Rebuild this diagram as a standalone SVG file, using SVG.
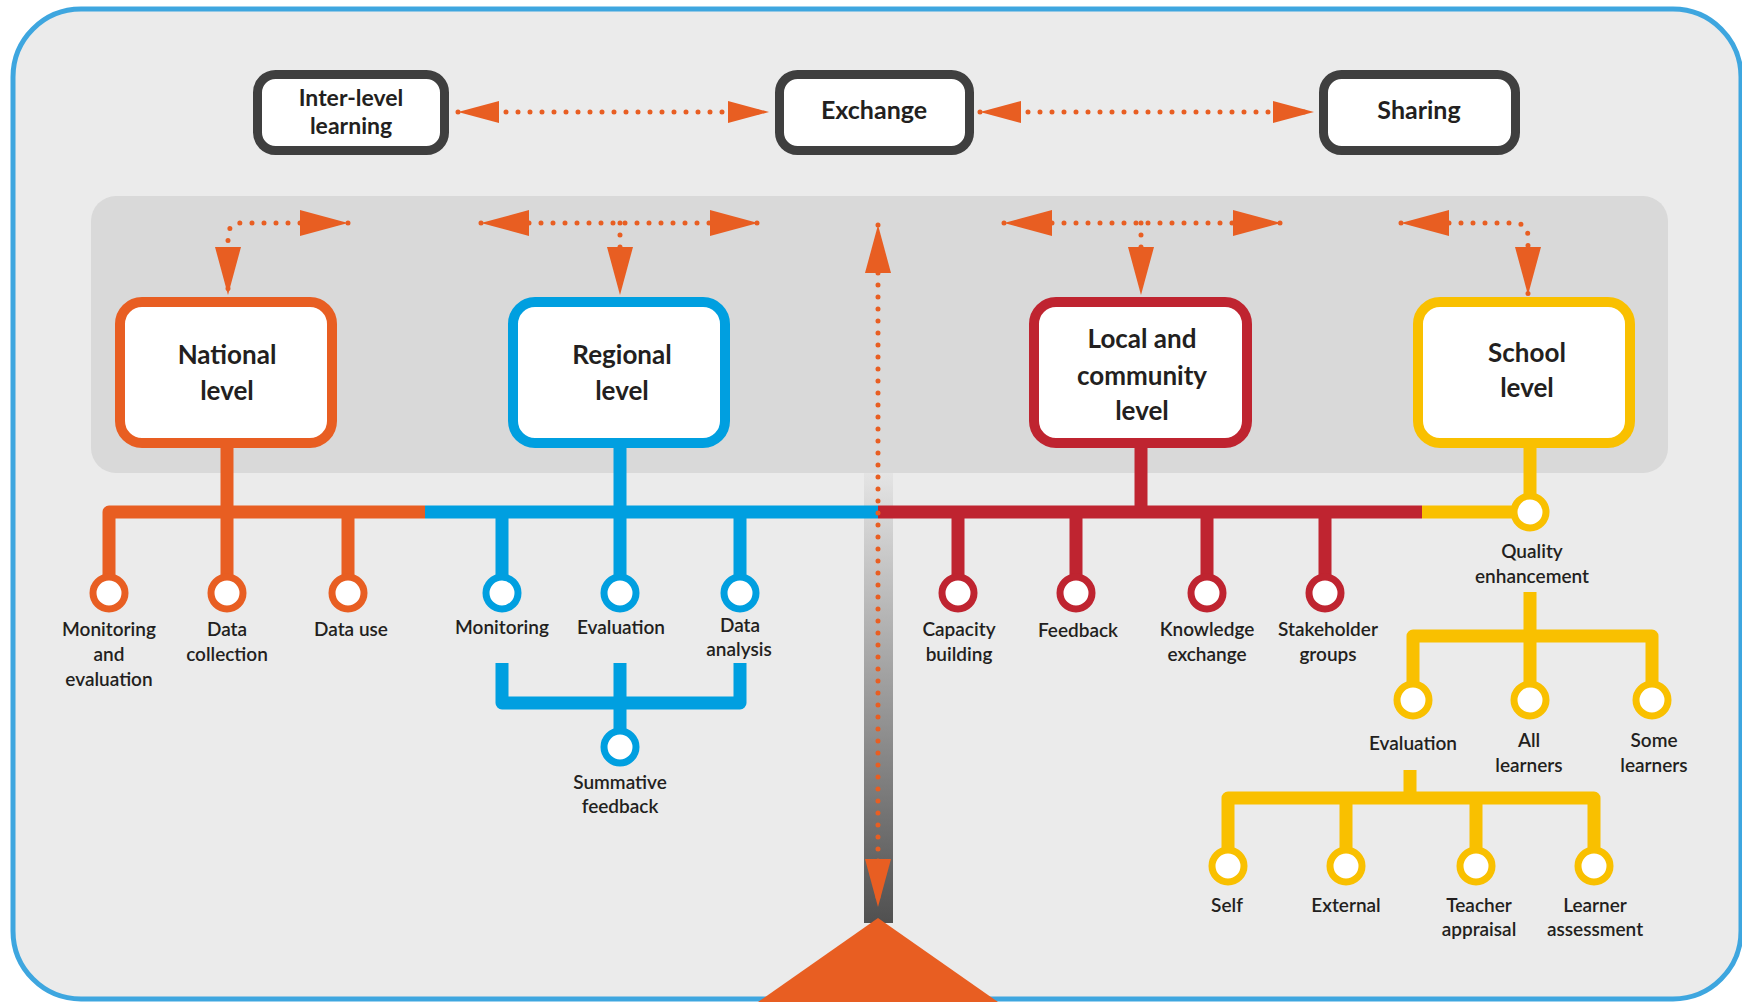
<svg xmlns="http://www.w3.org/2000/svg" width="1742" height="1002" viewBox="0 0 1742 1002">
<style>
.title{font-family:Lato,"Liberation Sans",sans-serif;font-weight:700;font-size:26px;fill:#231F20;text-anchor:middle}
.top{font-family:Lato,"Liberation Sans",sans-serif;font-weight:700;font-size:25px;fill:#231F20;text-anchor:middle}
.top2{font-family:Lato,"Liberation Sans",sans-serif;font-weight:700;font-size:23px;fill:#231F20;text-anchor:middle}
.lbl{font-family:Lato,"Liberation Sans",sans-serif;font-weight:600;font-size:19px;fill:#231F20;text-anchor:middle}
.dots{fill:none;stroke:#E85E22;stroke-width:5;stroke-linecap:round;stroke-dasharray:0 12}
.tb{fill:#FFFFFF;stroke:#3F3F3F;stroke-width:9}
.br{fill:none;stroke-width:13;stroke-linejoin:round}
.o{stroke:#E85E22}.b{stroke:#009FE0}.r{stroke:#BF2430}.y{stroke:#F9C000}
.c{fill:#FFFFFF;stroke-width:7}
</style>
<defs>
<marker id="ah" viewBox="0 0 48 26" refX="48" refY="13" markerWidth="48" markerHeight="26" markerUnits="userSpaceOnUse" orient="auto-start-reverse"><path d="M0,0 L48,13 L0,26 Z" fill="#E85E22"/></marker>
<marker id="ahs" viewBox="0 0 41 22" refX="41" refY="11" markerWidth="41" markerHeight="22" markerUnits="userSpaceOnUse" orient="auto-start-reverse"><path d="M0,0 L41,11 L0,22 Z" fill="#E85E22"/></marker>
<linearGradient id="bar" x1="0" y1="0" x2="0" y2="1"><stop offset="0" stop-color="#E4E4E4"/><stop offset="1" stop-color="#505050"/></linearGradient>
</defs>
<rect x="0" y="0" width="1742" height="1002" fill="#FFFFFF"/>
<rect x="13" y="9" width="1728" height="990" rx="68" fill="#EBEBEB" stroke="#3EA6DF" stroke-width="5"/>
<rect x="91" y="196" width="1577" height="277" rx="25" fill="#D9D9D9"/>
<rect x="864" y="473" width="29" height="450" fill="url(#bar)"/>
<polygon points="878,918 758,1002 998,1002" fill="#E85E22"/>

<g id="connectors">
<path class="dots" d="M458,112 L769,112" marker-start="url(#ahs)" marker-end="url(#ahs)"/>
<path class="dots" d="M980,112 L1314,112" marker-start="url(#ahs)" marker-end="url(#ahs)"/>
<path class="dots" d="M348,223 L242,223 Q228,223 228,237 L228,295" marker-start="url(#ah)" marker-end="url(#ah)"/>
<path class="dots" d="M481,223 L758,223" marker-start="url(#ah)" marker-end="url(#ah)"/>
<path class="dots" d="M620,223 L620,295" marker-end="url(#ah)"/>
<path class="dots" d="M1004,223 L1281,223" marker-start="url(#ah)" marker-end="url(#ah)"/>
<path class="dots" d="M1141,223 L1141,295" marker-end="url(#ah)"/>
<path class="dots" d="M1401,223 L1514,223 Q1528,223 1528,237 L1528,295" marker-start="url(#ah)" marker-end="url(#ah)"/>
<path class="br o" d="M227,448 L227,512"/>
<path class="br b" d="M620,448 L620,512"/>
<path class="br r" d="M1141,448 L1141,512"/>
<path class="br y" d="M1530,448 L1530,496"/>
<path class="br o" d="M109,577 L109,512 L425,512 M227,512 L227,577 M348,512 L348,577"/>
<path class="br b" d="M425,512 L878,512 M502,512 L502,577 M620,512 L620,577 M740,512 L740,577"/>
<path class="br b" d="M502,663 L502,703 L740,703 L740,663 M620,663 L620,731"/>
<path class="br r" d="M878,512 L1422,512 M958,512 L958,577 M1076,512 L1076,577 M1207,512 L1207,577 M1325,512 L1325,577"/>
<path class="br y" d="M1422,512 L1514,512"/>
<path class="br y" d="M1530,592 L1530,684 M1413,684 L1413,636 L1652,636 L1652,684"/>
<path class="br y" d="M1410,770 L1410,798 M1228,850 L1228,798 L1594,798 L1594,850 M1346,798 L1346,850 M1476,798 L1476,850"/>
<path class="dots" d="M878,225 L878,907" marker-start="url(#ah)" marker-end="url(#ah)"/>
</g>

<g id="inter-level"><rect class="tb" x="257.5" y="74.5" width="187" height="76" rx="18"/><text class="top2" x="351" y="106">Inter-level</text><text class="top2" x="351" y="134">learning</text></g>
<g id="exchange"><rect class="tb" x="779.5" y="74.5" width="190" height="76" rx="18"/><text class="top" x="874" y="119">Exchange</text></g>
<g id="sharing"><rect class="tb" x="1323.5" y="74.5" width="192" height="76" rx="18"/><text class="top" x="1419" y="119">Sharing</text></g>

<g id="national"><rect x="120" y="302" width="212" height="141" rx="22" fill="#FFFFFF" stroke="#E85E22" stroke-width="10"/><text class="title" x="227" y="364">National</text><text class="title" x="227" y="400">level</text></g>
<g id="regional"><rect x="513" y="302" width="212" height="141" rx="22" fill="#FFFFFF" stroke="#009FE0" stroke-width="10"/><text class="title" x="622" y="364">Regional</text><text class="title" x="622" y="400">level</text></g>
<g id="local"><rect x="1034" y="302" width="213" height="141" rx="22" fill="#FFFFFF" stroke="#BF2430" stroke-width="10"/><text class="title" x="1142" y="348">Local and</text><text class="title" x="1142" y="385">community</text><text class="title" x="1142" y="420">level</text></g>
<g id="school"><rect x="1418" y="302" width="212" height="141" rx="22" fill="#FFFFFF" stroke="#F9C000" stroke-width="10"/><text class="title" x="1527" y="362">School</text><text class="title" x="1527" y="397">level</text></g>

<g id="n-me"><circle class="c o" cx="109" cy="593" r="16"/><text class="lbl" x="109" y="636">Monitoring</text><text class="lbl" x="109" y="661">and</text><text class="lbl" x="109" y="686">evaluation</text></g>
<g id="n-dc"><circle class="c o" cx="227" cy="593" r="16"/><text class="lbl" x="227" y="636">Data</text><text class="lbl" x="227" y="661">collection</text></g>
<g id="n-du"><circle class="c o" cx="348" cy="593" r="16"/><text class="lbl" x="351" y="636">Data use</text></g>

<g id="r-mon"><circle class="c b" cx="502" cy="593" r="16"/><text class="lbl" x="502" y="634">Monitoring</text></g>
<g id="r-eval"><circle class="c b" cx="620" cy="593" r="16"/><text class="lbl" x="621" y="634">Evaluation</text></g>
<g id="r-da"><circle class="c b" cx="740" cy="593" r="16"/><text class="lbl" x="740" y="632">Data</text><text class="lbl" x="739" y="656">analysis</text></g>
<g id="r-sf"><circle class="c b" cx="620" cy="747" r="16"/><text class="lbl" x="620" y="789">Summative</text><text class="lbl" x="620" y="813">feedback</text></g>

<g id="l-cb"><circle class="c r" cx="958" cy="593" r="16"/><text class="lbl" x="959" y="636">Capacity</text><text class="lbl" x="959" y="661">building</text></g>
<g id="l-fb"><circle class="c r" cx="1076" cy="593" r="16"/><text class="lbl" x="1078" y="637">Feedback</text></g>
<g id="l-ke"><circle class="c r" cx="1207" cy="593" r="16"/><text class="lbl" x="1207" y="636">Knowledge</text><text class="lbl" x="1207" y="661">exchange</text></g>
<g id="l-sg"><circle class="c r" cx="1325" cy="593" r="16"/><text class="lbl" x="1328" y="636">Stakeholder</text><text class="lbl" x="1328" y="661">groups</text></g>

<g id="s-qe"><circle class="c y" cx="1530" cy="512" r="16"/><text class="lbl" x="1532" y="558">Quality</text><text class="lbl" x="1532" y="583">enhancement</text></g>
<g id="s-eval"><circle class="c y" cx="1413" cy="700" r="16"/><text class="lbl" x="1413" y="750">Evaluation</text></g>
<g id="s-all"><circle class="c y" cx="1530" cy="700" r="16"/><text class="lbl" x="1529" y="747">All</text><text class="lbl" x="1529" y="772">learners</text></g>
<g id="s-some"><circle class="c y" cx="1652" cy="700" r="16"/><text class="lbl" x="1654" y="747">Some</text><text class="lbl" x="1654" y="772">learners</text></g>
<g id="s-self"><circle class="c y" cx="1228" cy="866" r="16"/><text class="lbl" x="1227" y="912">Self</text></g>
<g id="s-ext"><circle class="c y" cx="1346" cy="866" r="16"/><text class="lbl" x="1346" y="912">External</text></g>
<g id="s-ta"><circle class="c y" cx="1476" cy="866" r="16"/><text class="lbl" x="1479" y="912">Teacher</text><text class="lbl" x="1479" y="936">appraisal</text></g>
<g id="s-la"><circle class="c y" cx="1594" cy="866" r="16"/><text class="lbl" x="1595" y="912">Learner</text><text class="lbl" x="1595" y="936">assessment</text></g>
</svg>
